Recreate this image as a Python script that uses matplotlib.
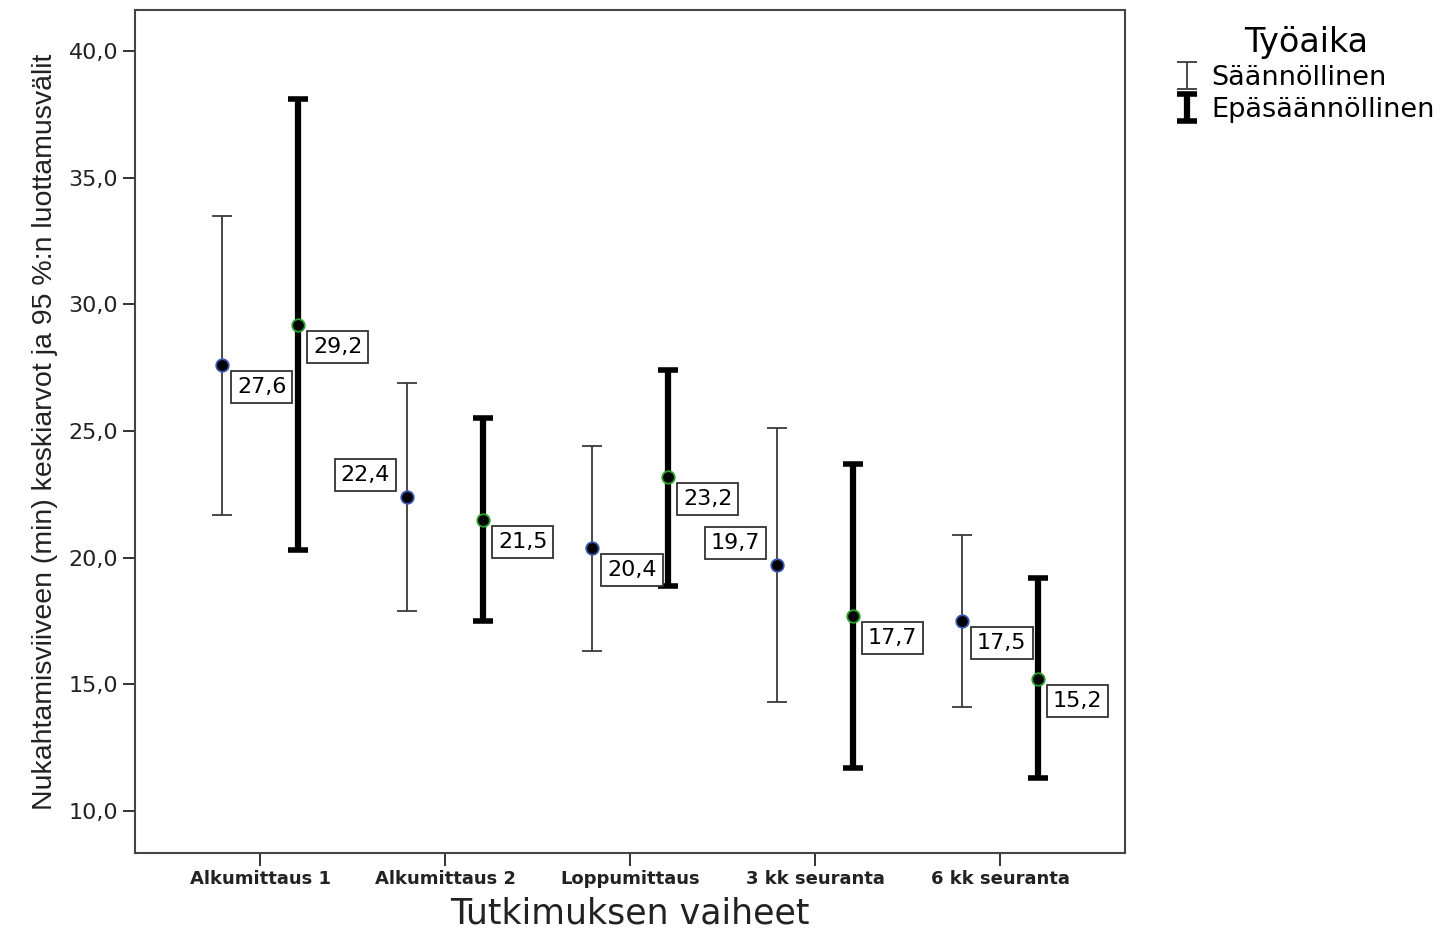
import matplotlib
matplotlib.use("Agg")
import matplotlib.pyplot as plt
import numpy as np

# data
phases = ["Alkumittaus 1", "Alkumittaus 2", "Loppumittaus", "3 kk seuranta", "6 kk seuranta"]

reg_mean = [27.6, 22.4, 20.4, 19.7, 17.5]          # Säännöllinen
reg_low = [21.7, 17.9, 16.3, 14.3, 14.1]
reg_high = [33.5, 26.9, 24.4, 25.1, 20.9]

irr_mean = [29.2, 21.5, 23.2, 17.7, 15.2]          # Epäsäännöllinen
irr_low = [20.3, 17.5, 18.9, 11.7, 11.3]
irr_high = [38.1, 25.5, 27.4, 23.7, 19.2]

reg_label_side = ["rb", "la", "rb", "la", "rb"]
irr_label_side = ["rb", "rb", "rb", "rb", "rb"]

x = np.arange(len(phases))
off = 0.205

fig = plt.figure(figsize=(14.5, 9.33), dpi=100)
ax = fig.add_axes([135 / 1450, 1 - 853 / 933, 990 / 1450, 843 / 933])


def fmt(v):
    return f"{v:.1f}".replace(".", ",")


box = dict(boxstyle="square,pad=0.27", fc="white", ec="#333333", lw=1.3)


def draw_series(xs, mean, low, high, lw, cap_t, color, edge, sides):
    mean = np.array(mean)
    yerr = [mean - np.array(low), np.array(high) - mean]
    eb = ax.errorbar(xs, mean, yerr=yerr, fmt="none", ecolor=color, elinewidth=lw,
                     capsize=7.5, capthick=cap_t, zorder=2)
    ax.plot(xs, mean, "o", ms=9, mfc="black", mec=edge, mew=1.3, ls="none", zorder=4)
    for xi, m, s in zip(xs, mean, sides):
        if s == "rb":
            ax.annotate(fmt(m), (xi, m), xytext=(15, -12), textcoords="offset pixels",
                        ha="left", va="top", fontsize=16, bbox=box, zorder=5)
        else:
            ax.annotate(fmt(m), (xi, m), xytext=(-17, 12), textcoords="offset pixels",
                        ha="right", va="bottom", fontsize=16, bbox=box, zorder=5)
    return eb


eb_reg = draw_series(x - off, reg_mean, reg_low, reg_high, 1.3, 1.3, "#3a3a3a", "#3a55b0", reg_label_side)
eb_irr = draw_series(x + off, irr_mean, irr_low, irr_high, 4.5, 4.0, "black", "#2ca02c", irr_label_side)

ax.set_xlim(-0.676, 4.676)
ax.set_ylim(8.34, 41.62)
yt = [10, 15, 20, 25, 30, 35, 40]
ax.set_yticks(yt)
ax.set_yticklabels([fmt(v) for v in yt], fontsize=16)
ax.set_xticks(x)
ax.set_xticklabels(phases, fontsize=13, fontweight="bold")
ax.tick_params(direction="out", length=9, width=1.3, colors="#222222", pad=3)
for sp in ax.spines.values():
    sp.set_color("#444444")
    sp.set_linewidth(1.5)

ax.set_xlabel("Tutkimuksen vaiheet", fontsize=25, color="#222222", labelpad=6)
ax.set_ylabel("Nukahtamisviiveen (min) keskiarvot ja 95 %:n luottamusvälit",
              fontsize=20.5, family="Liberation Sans", color="#222222", labelpad=8)

leg = fig.legend([eb_reg, eb_irr], ["Säännöllinen", "Epäsäännöllinen"], title="Työaika",
                 loc="upper left", bbox_to_anchor=(1152 / 1450, 1 - 2 / 933),
                 frameon=False, fontsize=19.5, title_fontsize=24,
                 handlelength=0.8, handletextpad=0.5, labelspacing=0.22)

fig.savefig("out.png", dpi=100)
